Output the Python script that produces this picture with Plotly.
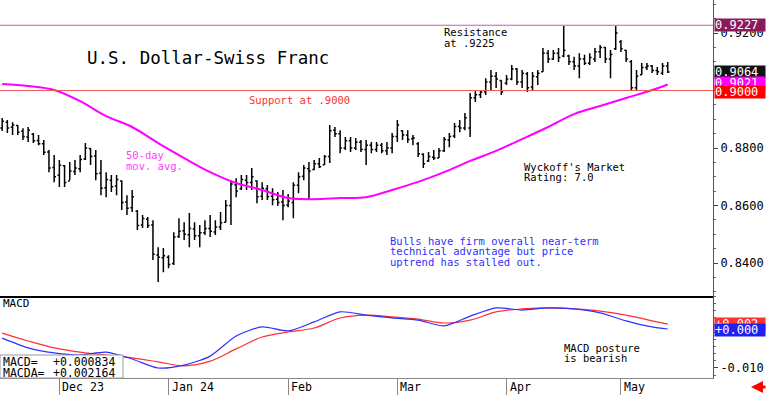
import pandas as pd
import plotly.graph_objects as go

FONT = "DejaVu Sans Mono"

# ---------------- data ----------------
dates = pd.bdate_range("2023-11-16", "2024-05-14")

opens = [0.8870, 0.8890, 0.8872, 0.8878, 0.8858, 0.8838, 0.8848, 0.8826, 0.8815, 0.8786,
         0.8732, 0.8705, 0.8738, 0.8685, 0.8718, 0.8728, 0.8762, 0.8798, 0.8772, 0.8712,
         0.8662, 0.8688, 0.8668, 0.8685, 0.8612, 0.8592, 0.8580, 0.8532, 0.8552, 0.8532,
         0.8428, 0.8418, 0.8420, 0.8398, 0.8492, 0.8512, 0.8498, 0.8518, 0.8495, 0.8505,
         0.8520, 0.8508, 0.8525, 0.8542, 0.8600, 0.8672, 0.8658, 0.8688, 0.8680, 0.8685,
         0.8632, 0.8658, 0.8632, 0.8622, 0.8612, 0.8602, 0.8610, 0.8670, 0.8702, 0.8728,
         0.8725, 0.8745, 0.8742, 0.8770, 0.8862, 0.8850, 0.8800, 0.8825, 0.8800, 0.8820,
         0.8795, 0.8810, 0.8795, 0.8810, 0.8790, 0.8800, 0.8840, 0.8860, 0.8845, 0.8832,
         0.8815, 0.8778, 0.8755, 0.8768, 0.8765, 0.8790, 0.8828, 0.8842, 0.8875, 0.8870,
         0.8870, 0.8975, 0.8985, 0.8995, 0.9030, 0.9050, 0.9035, 0.9025, 0.9040, 0.9075,
         0.9030, 0.9058, 0.9012, 0.9048, 0.9065, 0.9130, 0.9110, 0.9130, 0.9120, 0.9120,
         0.9100, 0.9085, 0.9110, 0.9095, 0.9110, 0.9135, 0.9150, 0.9110, 0.9145, 0.9170,
         0.9140, 0.9100, 0.9010, 0.9055, 0.9080, 0.9085, 0.9070, 0.9060, 0.9085]
highs = [0.8904, 0.8897, 0.8890, 0.8880, 0.8869, 0.8873, 0.8852, 0.8845, 0.8828, 0.8793,
         0.8776, 0.8758, 0.8741, 0.8751, 0.8758, 0.8776, 0.8817, 0.8800, 0.8793, 0.8758,
         0.8716, 0.8706, 0.8706, 0.8688, 0.8636, 0.8654, 0.8584, 0.8567, 0.8560, 0.8549,
         0.8455, 0.8452, 0.8427, 0.8507, 0.8556, 0.8542, 0.8574, 0.8542, 0.8532, 0.8549,
         0.8567, 0.8549, 0.8577, 0.8619, 0.8688, 0.8695, 0.8706, 0.8706, 0.8730, 0.8688,
         0.8681, 0.8671, 0.8660, 0.8647, 0.8654, 0.8640, 0.8681, 0.8716, 0.8741, 0.8751,
         0.8758, 0.8765, 0.8776, 0.8880, 0.8873, 0.8862, 0.8838, 0.8838, 0.8835, 0.8828,
         0.8828, 0.8821, 0.8821, 0.8817, 0.8821, 0.8852, 0.8897, 0.8862, 0.8862, 0.8845,
         0.8821, 0.8782, 0.8786, 0.8793, 0.8800, 0.8838, 0.8852, 0.8887, 0.8897, 0.8922,
         0.8991, 0.9002, 0.9002, 0.9043, 0.9071, 0.9064, 0.9036, 0.9054, 0.9089, 0.9078,
         0.9071, 0.9064, 0.9064, 0.9071, 0.9148, 0.9141, 0.9141, 0.9148, 0.9224, 0.9124,
         0.9117, 0.9130, 0.9124, 0.9130, 0.9148, 0.9158, 0.9151, 0.9141, 0.9224, 0.9176,
         0.9141, 0.9106, 0.9071, 0.9096, 0.9096, 0.9089, 0.9082, 0.9096, 0.9099]
lows = [0.8859, 0.8852, 0.8845, 0.8845, 0.8828, 0.8821, 0.8817, 0.8810, 0.8776, 0.8716,
        0.8681, 0.8664, 0.8664, 0.8688, 0.8706, 0.8716, 0.8758, 0.8741, 0.8688, 0.8636,
        0.8629, 0.8647, 0.8636, 0.8584, 0.8567, 0.8577, 0.8515, 0.8522, 0.8522, 0.8410,
        0.8334, 0.8368, 0.8382, 0.8393, 0.8487, 0.8480, 0.8455, 0.8480, 0.8455, 0.8497,
        0.8490, 0.8497, 0.8515, 0.8542, 0.8532, 0.8629, 0.8654, 0.8654, 0.8654, 0.8608,
        0.8619, 0.8619, 0.8601, 0.8598, 0.8549, 0.8594, 0.8556, 0.8643, 0.8688, 0.8619,
        0.8723, 0.8730, 0.8741, 0.8748, 0.8838, 0.8782, 0.8793, 0.8786, 0.8793, 0.8786,
        0.8741, 0.8782, 0.8786, 0.8782, 0.8776, 0.8782, 0.8821, 0.8828, 0.8817, 0.8810,
        0.8769, 0.8730, 0.8751, 0.8758, 0.8765, 0.8786, 0.8803, 0.8835, 0.8855, 0.8862,
        0.8838, 0.8960, 0.8974, 0.8984, 0.9002, 0.9009, 0.8984, 0.9019, 0.9036, 0.9019,
        0.9009, 0.8995, 0.9002, 0.9019, 0.9064, 0.9096, 0.9106, 0.9099, 0.9116, 0.9089,
        0.9071, 0.9043, 0.9089, 0.9089, 0.9099, 0.9113, 0.9096, 0.9043, 0.9141, 0.9134,
        0.9099, 0.9002, 0.9002, 0.9054, 0.9071, 0.9061, 0.9054, 0.9054, 0.9061]
closes = [0.8893, 0.8870, 0.8880, 0.8855, 0.8840, 0.8862, 0.8825, 0.8815, 0.8785, 0.8730,
          0.8700, 0.8740, 0.8680, 0.8720, 0.8730, 0.8760, 0.8800, 0.8770, 0.8710, 0.8660,
          0.8690, 0.8665, 0.8690, 0.8610, 0.8590, 0.8630, 0.8530, 0.8555, 0.8530, 0.8430,
          0.8420, 0.8425, 0.8395, 0.8490, 0.8510, 0.8500, 0.8520, 0.8495, 0.8505, 0.8520,
          0.8510, 0.8525, 0.8540, 0.8600, 0.8675, 0.8650, 0.8690, 0.8680, 0.8700, 0.8630,
          0.8660, 0.8630, 0.8620, 0.8610, 0.8600, 0.8615, 0.8670, 0.8700, 0.8730, 0.8720,
          0.8745, 0.8735, 0.8770, 0.8860, 0.8850, 0.8800, 0.8825, 0.8800, 0.8820, 0.8795,
          0.8810, 0.8795, 0.8810, 0.8790, 0.8800, 0.8840, 0.8880, 0.8845, 0.8830, 0.8835,
          0.8780, 0.8745, 0.8770, 0.8765, 0.8790, 0.8830, 0.8840, 0.8875, 0.8870, 0.8905,
          0.8975, 0.8985, 0.8995, 0.9030, 0.9050, 0.9040, 0.8995, 0.9040, 0.9075, 0.9030,
          0.9060, 0.9010, 0.9050, 0.9060, 0.9130, 0.9110, 0.9130, 0.9115, 0.9140, 0.9100,
          0.9085, 0.9110, 0.9095, 0.9115, 0.9135, 0.9150, 0.9110, 0.9125, 0.9200, 0.9145,
          0.9110, 0.9010, 0.9050, 0.9080, 0.9085, 0.9070, 0.9065, 0.9085, 0.9064]

# smooth indicators, read every 5th session
sample_idx = list(range(0, 129, 5)) + [128]
ma50 = [0.9023, 0.9016, 0.9002, 0.8963, 0.8911, 0.8873, 0.8817, 0.8765, 0.8716, 0.8678,
        0.8654, 0.8626, 0.8622, 0.8626, 0.8629, 0.8654, 0.8682, 0.8716, 0.8755, 0.8790,
        0.8831, 0.8873, 0.8918, 0.8946, 0.8974, 0.9002, 0.9021]
macd = [-0.0017, -0.0044, -0.0058, -0.0064, -0.0056, -0.0075, -0.0100, -0.0092, -0.0067,
        -0.0011, 0.0014, 0.0003, 0.0028, 0.0056, 0.0047, 0.0039, 0.0033, 0.0017, 0.0044,
        0.0067, 0.0061, 0.0067, 0.0064, 0.0053, 0.0031, 0.0014, 0.000834]
macda = [-0.0003, -0.0025, -0.0044, -0.0056, -0.0064, -0.0072, -0.0083, -0.0094, -0.0081,
         -0.0047, -0.0014, 0.0000, 0.0011, 0.0039, 0.0047, 0.0042, 0.0036, 0.0025, 0.0033,
         0.0056, 0.0064, 0.0067, 0.0064, 0.0058, 0.0047, 0.0031, 0.002164]

resistance = 0.9227
support = 0.9000
last_close = 0.9064

price_ticks = [0.84, 0.86, 0.88, 0.90, 0.92]
price_ticktext = ["0.8400", "0.8600", "0.8800", "0.9000", "0.9200"]
macd_ticks = [-0.010]
macd_ticktext = ["-0.010"]
month_starts = ["2023-12-01", "2024-01-01", "2024-02-01", "2024-03-01", "2024-04-01", "2024-05-01"]
month_labels = ["Dec 23", "Jan 24", "Feb", "Mar", "Apr", "May"]

sample_dates = [dates[i] for i in sample_idx]

# ---------------- figure ----------------
W, H = 768, 395
ML, MR, MT, MB = 0, 55, 0, 17
PW, PH = W - ML - MR, H - MT - MB
SPLIT = 296  # pixel y of panel separator


def px(x):
    return x / PW


def py(y):
    return (PH - y) / PH


fig = go.Figure()

fig.add_trace(go.Ohlc(
    x=dates, open=opens, high=highs, low=lows, close=closes,
    increasing=dict(line=dict(color="black", width=1.5)),
    decreasing=dict(line=dict(color="black", width=1.5)),
    tickwidth=0.35, xaxis="x", yaxis="y", showlegend=False, hoverinfo="skip",
))
fig.add_trace(go.Scatter(
    x=sample_dates, y=ma50, mode="lines", line=dict(color="#FF00FF", width=2, shape="spline"),
    xaxis="x", yaxis="y", showlegend=False,
))
fig.add_trace(go.Scatter(
    x=sample_dates, y=macda, mode="lines", line=dict(color="#FF3030", width=1.2, shape="spline"),
    xaxis="x2", yaxis="y2", showlegend=False,
))
fig.add_trace(go.Scatter(
    x=sample_dates, y=macd, mode="lines", line=dict(color="#3030FF", width=1.2, shape="spline", smoothing=0.7),
    xaxis="x2", yaxis="y2", showlegend=False,
))

shapes = [
    dict(type="line", xref="x domain", yref="y", x0=0, x1=1, y0=resistance, y1=resistance,
         line=dict(color="#C8609A", width=1.2)),
    dict(type="line", xref="x domain", yref="y", x0=0, x1=1, y0=support, y1=support,
         line=dict(color="#F05A5A", width=1.2)),
    dict(type="rect", xref="paper", yref="paper", x0=px(0), x1=px(123), y0=py(378), y1=py(355),
         line=dict(color="#999999", width=1), fillcolor="white", layer="above"),
]

ann = []


def text(x, y, s, color="black", size=10.5, anchor="left"):
    ann.append(dict(xref="paper", yref="paper", x=px(x), y=py(y), text=s, showarrow=False,
                    xanchor=anchor, yanchor="middle", font=dict(family=FONT, size=size, color=color)))


text(85, 58, "U.S. Dollar-Swiss Franc", size=17.5)
text(442, 32, "Resistance")
text(442, 43, "at .9225")
text(247, 100, "Support at .9000", color="#FF3030")
text(124, 155, "50-day", color="#FF40FF")
text(124, 166, "mov. avg.", color="#FF40FF")
text(522, 167, "Wyckoff's Market")
text(522, 177, "Rating: 7.0")
text(388, 241, "Bulls have firm overall near-term", color="#3030FF")
text(388, 251, "technical advantage but price", color="#3030FF")
text(388, 262, "uptrend has stalled out.", color="#3030FF")
text(562, 348, "MACD posture")
text(562, 358, "is bearish")
text(1, 303, "MACD", size=11)
text(1, 362, "MACD=", size=11.5)
text(1, 373, "MACDA=", size=11.5)
text(51, 362, "+0.000834", size=11.5)
text(51, 373, "+0.002164", size=11.5)

for d, lab in zip(month_starts, month_labels):
    ann.append(dict(xref="x2", yref="paper", x=d, y=py(387), text=lab, showarrow=False,
                    xanchor="left", yanchor="middle", xshift=1,
                    font=dict(family=FONT, size=11.6, color="black")))


def value_box(val, yref, label, bg, yshift=0):
    ann.append(dict(xref="paper", yref=yref, x=px(PW + 1), y=val, text=label, showarrow=False,
                    xanchor="left", yanchor="middle", align="left", width=50, height=12,
                    bgcolor=bg, borderpad=0, yshift=yshift,
                    font=dict(family=FONT, size=12, color="white")))


value_box(resistance, "y", "0.9227", "#8B1A5A")
value_box(last_close, "y", "0.9064", "#111111")
value_box(ma50[-1], "y", "0.9021", "#FF00FF", yshift=1)
value_box(support, "y", "0.9000", "#FF0000", yshift=-1)
value_box(macda[-1], "y2", "+0.002", "#FF3030", yshift=0)
value_box(macd[-1], "y2", "+0.000", "#2020F0", yshift=-1)

ann.append(dict(xref="paper", yref="paper", x=px(751), y=py(387), ax=16, ay=0, text="",
                showarrow=True, arrowhead=2, arrowsize=0.8, arrowwidth=3, arrowcolor="#FF0000"))

rb = [dict(bounds=["sat", "mon"])]
xrange = ["2023-11-15 14:00", "2024-05-24 17:00"]
price_dom = [py(SPLIT), 1]
macd_dom = [0, py(SPLIT)]

fig.update_layout(
    width=W, height=H, margin=dict(l=ML, r=MR, t=MT, b=MB),
    paper_bgcolor="white", plot_bgcolor="white",
    font=dict(family=FONT, size=12, color="black"),
    showlegend=False, shapes=shapes, annotations=ann,
    xaxis=dict(domain=[0, 1], anchor="y", range=xrange, rangebreaks=rb,
               rangeslider=dict(visible=False), showgrid=False, zeroline=False,
               showticklabels=False, ticks="", showline=True, linecolor="black", linewidth=1.5),
    xaxis2=dict(domain=[0, 1], anchor="y2", range=xrange, rangebreaks=rb, matches="x",
                showgrid=False, zeroline=False, showticklabels=False,
                tickmode="array", tickvals=month_starts, ticks="outside", ticklen=MB,
                tickcolor="#888888", tickwidth=1,
                showline=True, linecolor="#888888", linewidth=1),
    yaxis=dict(domain=price_dom, anchor="x", side="right", range=[0.82852, 0.93148],
               tickmode="array", tickvals=price_ticks, ticktext=price_ticktext,
               ticks="outside", ticklen=4, tickcolor="#444444",
               minor=dict(dtick=0.005, ticks="outside", ticklen=2, tickcolor="#666666"),
               showgrid=False, zeroline=False, showline=True, linecolor="#555555",
               tickfont=dict(family=FONT, size=12, color="black")),
    yaxis2=dict(domain=macd_dom, anchor="x2", side="right", range=[-0.01278, 0.0100],
                tickmode="array", tickvals=macd_ticks, ticktext=macd_ticktext,
                ticks="outside", ticklen=4, tickcolor="#444444",
                minor=dict(dtick=0.002, ticks="outside", ticklen=2, tickcolor="#666666"),
                showgrid=False, zeroline=False, showline=True, linecolor="#555555",
                tickfont=dict(family=FONT, size=12, color="black")),
)

fig.write_html(
    "out.html",
    config={"displayModeBar": False},
    post_script="document.body.style.margin='0';document.body.style.overflow='hidden';",
)
